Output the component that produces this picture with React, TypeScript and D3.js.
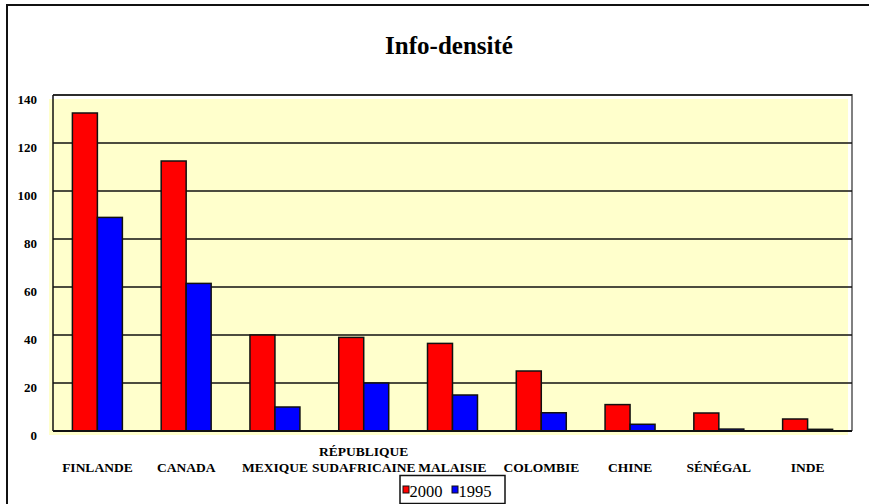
import React, { useEffect, useRef } from "react";
import * as d3 from "d3";

const countries = [
  "FINLANDE",
  "CANADA",
  "MEXIQUE",
  "RÉPUBLIQUE SUDAFRICAINE",
  "MALAISIE",
  "COLOMBIE",
  "CHINE",
  "SÉNÉGAL",
  "INDE",
];
const years = ["2000", "1995"];
const values2000 = [132.5, 112.5, 40, 39, 36.5, 25, 11, 7.5, 5];
const values1995 = [89, 61.5, 10, 20, 15, 7.6, 2.8, 0.8, 0.7];
const yTicks = [0, 20, 40, 60, 80, 100, 120, 140];
const colors = ["#FF0000", "#0000FF"];

export default function App() {
  const ref = useRef<SVGSVGElement | null>(null);

  useEffect(() => {
    document.body.style.margin = "0";
    const svg = d3.select(ref.current);
    svg.selectAll("*").remove();

    const font = "'Liberation Serif', 'Times New Roman', serif";
    const plot = { left: 53, right: 852, top: 95, bottom: 431 };

    const x0 = d3
      .scaleBand()
      .domain(countries)
      .range([plot.left, plot.right])
      .paddingInner(0.437)
      .paddingOuter(0.2185);
    const x1 = d3.scaleBand().domain(years).range([0, x0.bandwidth()]);
    const y = d3.scaleLinear().domain([0, 140]).range([plot.bottom, plot.top]);

    // outer frame
    svg
      .append("rect")
      .attr("x", 7)
      .attr("y", 5)
      .attr("width", 900)
      .attr("height", 600)
      .attr("fill", "white")
      .attr("stroke", "#111")
      .attr("stroke-width", 2);

    // title
    svg
      .append("text")
      .attr("x", 449)
      .attr("y", 54)
      .attr("text-anchor", "middle")
      .attr("font-family", font)
      .attr("font-weight", "bold")
      .attr("font-size", 25)
      .text("Info-densité");

    // plot background (offset like the original)
    svg
      .append("rect")
      .attr("x", plot.left - 4)
      .attr("y", plot.top + 4)
      .attr("width", plot.right - plot.left)
      .attr("height", plot.bottom - plot.top)
      .attr("fill", "#FFFFCC");

    // top and right border
    svg
      .append("path")
      .attr("d", `M${plot.left},${plot.top}H${plot.right}V${plot.bottom}`)
      .attr("fill", "none")
      .attr("stroke", "#808080")
      .attr("stroke-width", 2);

    // gridlines
    svg
      .append("g")
      .selectAll("line")
      .data(yTicks.slice(1))
      .join("line")
      .attr("x1", plot.left)
      .attr("x2", plot.right)
      .attr("y1", (d) => y(d))
      .attr("y2", (d) => y(d))
      .attr("stroke", "#111")
      .attr("stroke-width", 1.4);

    // y tick labels
    svg
      .append("g")
      .selectAll("text")
      .data(yTicks)
      .join("text")
      .attr("x", 37)
      .attr("y", (d) => y(d) + 8.5)
      .attr("text-anchor", "end")
      .attr("font-family", font)
      .attr("font-weight", "bold")
      .attr("font-size", 13)
      .text((d) => d);

    // bars
    const groups = svg
      .append("g")
      .selectAll("g")
      .data(countries)
      .join("g")
      .attr("transform", (d) => `translate(${x0(d)},0)`);

    groups
      .selectAll("rect")
      .data((d, i) => [
        { key: "2000", value: values2000[i] },
        { key: "1995", value: values1995[i] },
      ])
      .join("rect")
      .attr("x", (d) => x1(d.key)!)
      .attr("y", (d) => y(d.value))
      .attr("width", x1.bandwidth())
      .attr("height", (d) => y(0) - y(d.value))
      .attr("fill", (d, i) => colors[i])
      .attr("stroke", "#111")
      .attr("stroke-width", 1.5);

    // axes lines
    svg
      .append("line")
      .attr("x1", plot.left)
      .attr("x2", plot.left)
      .attr("y1", plot.top)
      .attr("y2", plot.bottom)
      .attr("stroke", "#111")
      .attr("stroke-width", 1.5);
    svg
      .append("line")
      .attr("x1", plot.left)
      .attr("x2", plot.right)
      .attr("y1", plot.bottom)
      .attr("y2", plot.bottom)
      .attr("stroke", "#111")
      .attr("stroke-width", 2);

    // category labels
    const labels = svg
      .append("g")
      .selectAll("text")
      .data(countries)
      .join("text")
      .attr("x", (d) => x0(d)! + x0.bandwidth() / 2)
      .attr("y", 472)
      .attr("text-anchor", "middle")
      .attr("font-family", font)
      .attr("font-weight", "bold")
      .attr("font-size", 13.5);
    labels.each(function (d) {
      const words = d === "RÉPUBLIQUE SUDAFRICAINE" ? d.split(" ") : [d];
      const t = d3.select(this);
      words.forEach((w, i) => {
        t.append("tspan")
          .attr("x", x0(d)! + x0.bandwidth() / 2)
          .attr("dy", i === 0 ? -(words.length - 1) * 16 : 16)
          .text(w);
      });
    });

    // legend
    const legend = svg.append("g");
    legend
      .append("rect")
      .attr("x", 400)
      .attr("y", 475.5)
      .attr("width", 105)
      .attr("height", 28)
      .attr("fill", "white")
      .attr("stroke", "#111")
      .attr("stroke-width", 1.5);
    const items = legend
      .selectAll("g")
      .data(years)
      .join("g")
      .attr("transform", (d, i) => `translate(${403 + i * 49},0)`);
    items
      .append("rect")
      .attr("x", 0)
      .attr("y", 486)
      .attr("width", 6)
      .attr("height", 7)
      .attr("fill", (d, i) => colors[i])
      .attr("stroke", "#111")
      .attr("stroke-width", 1);
    items
      .append("text")
      .attr("x", 6.5)
      .attr("y", 497)
      .attr("font-family", font)
      .attr("font-size", 16.5)
      .text((d) => d);
  }, []);

  return (
    <svg
      ref={ref}
      width={869}
      height={504}
      style={{ display: "block", background: "white" }}
    ></svg>
  );
}
